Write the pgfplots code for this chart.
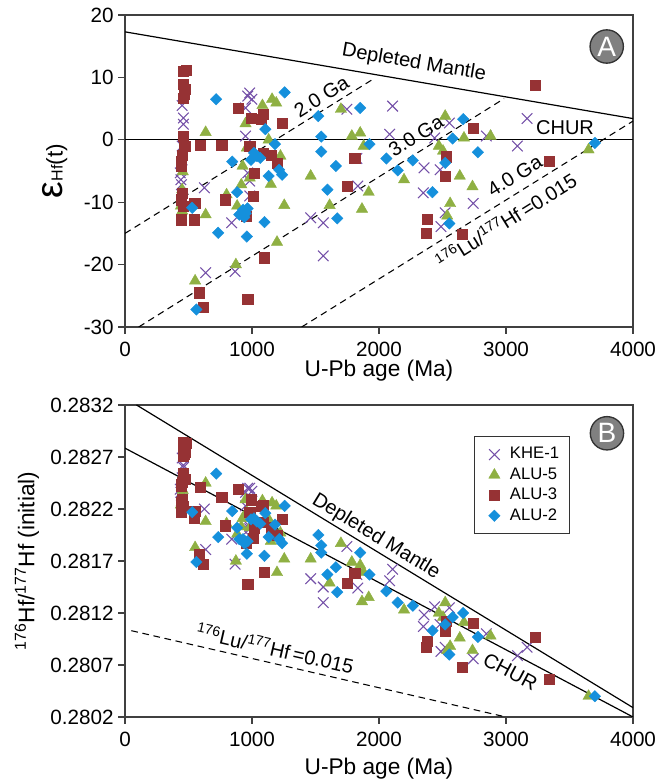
\documentclass[border=0pt]{standalone}
\usepackage{pgfplots}
\pgfplotsset{compat=1.18}
\usepackage{fontspec}
\setmainfont{Liberation Sans}
\definecolor{khe}{HTML}{7450A8}
\definecolor{aluv}{HTML}{8FB043}
\definecolor{aluiii}{HTML}{963234}
\definecolor{aluii}{HTML}{1590DC}
\pgfplotsset{
  panel/.style={
    scale only axis, width=381pt, height=234pt,
    xmin=0, xmax=4000, xtick={0,1000,2000,3000,4000},
    axis line style={draw=black!75, line width=0.9pt},
    tick align=outside, xtick pos=left, ytick pos=left,
    major tick length=5pt,
    every tick/.style={draw=black!75, line width=0.9pt},
    tick label style={font=\fontsize{15.5}{18}\selectfont},
    xticklabel style={yshift=-2.5pt},
    /pgf/number format/assume math mode=true,
    /pgf/number format/1000 sep={},
    label style={font=\fontsize{17}{20}\selectfont},
    xlabel={U-Pb age (Ma)},
  },
  kheS/.style={only marks, mark=x, mark size=5.6pt, color=khe, mark options={line width=0.8pt}},
  aluvS/.style={only marks, mark=triangle*, mark size=4.9pt, color=aluv, mark options={line width=0.3pt}},
  aluiiiS/.style={only marks, mark=square*, mark size=3.8pt, color=aluiii, mark options={line width=0.3pt}},
  aluiiS/.style={only marks, mark=square*, mark size=3.05pt, color=aluii, mark options={rotate=45, line width=0.3pt}},
  refline/.style={black, line width=0.9pt, forget plot},
  dashline/.style={black, line width=0.8pt, dash pattern=on 5pt off 3.5pt, forget plot},
}
\tikzset{
  lbl/.style={font=\fontsize{15}{18}\selectfont, inner sep=0pt},
  circ/.style={circle, draw=black!80, line width=1pt, fill=black!50, text=white, minimum size=25pt, inner sep=0pt, font=\fontsize{21}{21}\selectfont},
}
\begin{document}
\begin{tikzpicture}
\path[use as bounding box] (0pt,0pt) rectangle (494.25pt,588pt);
% ---------------- Panel A ----------------
\begin{axis}[panel, at={(93.75pt,342.75pt)}, anchor=south west,
  ymin=-30, ymax=20, ytick={-30,-20,-10,0,10,20},
  ylabel={{\fontsize{28}{28}\selectfont ε}{\fontsize{12}{12}\selectfont Hf}(t)},
  ylabel style={at={(axis description cs:-0.138,0.5)}, anchor=center},
  xlabel style={at={(axis description cs:0.5,-0.141)}, anchor=center},
]
\addplot[refline] coordinates {(0,17.3) (4000,3.4)};
\addplot[refline] coordinates {(0,0) (4000,0)};
\addplot[dashline] coordinates {(0,-15) (1960,9.8)};
\addplot[dashline] coordinates {(108,-30) (2985,6.6)};
\addplot[dashline] coordinates {(1391,-30) (4000,3.0)};
\addplot[kheS] table {
x y
450 5.5
460 3.5
460 2.5
450 -1.0
435 -5.3
440 -6.4
445 -7.2
450 -4.8
625 -7.7
635 -21.3
840 -13.3
867 -21.1
982 7.5
966 7.0
999 6.5
949 5.1
949 0.6
966 -5.3
982 -6.6
982 -9.0
1462 -12.5
1561 -13.3
1561 -18.6
1747 4.9
1826 -3.0
1833 -7.4
2107 5.4
2084 0.9
2355 -4.5
2349 -8.5
2438 0.3
2481 -4.8
2488 -13.9
2521 -11.7
2554 2.7
2845 0.6
2742 -10.2
3090 -1.0
3166 3.4
};
\addplot[aluvS] table {
x y
455 -5.1
450 -8.0
445 -9.6
440 -10.6
450 -11.4
552 -22.6
635 1.2
635 -12.0
800 -8.8
873 -20.0
883 -10.6
949 2.6
959 -1.3
916 -7.2
926 -4.2
982 -6.1
1082 5.5
1158 6.5
1191 5.9
1131 0.0
1148 -7.1
1224 -2.6
1254 -10.5
1197 -16.4
1462 -5.8
1611 -10.5
1700 4.9
1786 0.6
1852 1.1
1866 -11.1
1879 -1.0
1919 -8.4
2197 -6.4
2471 -1.0
2504 -1.8
2521 3.8
2537 -12.2
2560 -10.2
2636 -5.8
2669 0.3
2736 -7.5
2878 0.6
3650 -1.6
};
\addplot[aluiiiS] table {
x y
460 11.0
480 11.2
460 8.9
470 8.1
465 7.3
460 6.7
460 0.6
470 -1.0
450 -2.4
440 -3.4
445 -4.2
450 -8.5
445 -9.6
455 -10.6
445 -12.8
549 -10.1
546 -12.8
585 -24.5
615 -26.8
595 -0.9
761 -0.9
791 -9.6
893 5.1
966 -25.6
956 -12.2
992 3.5
982 -1.0
1009 -9.0
1072 3.3
1085 4.1
1088 -2.1
1016 -5.3
1151 -2.4
1197 -3.7
1237 2.6
1098 -18.9
1747 -7.4
1809 -3.0
2375 -14.9
2382 -12.7
2527 -2.7
2521 -5.8
2653 -15.1
2739 1.8
3232 8.7
3338 -3.4
};
\addplot[aluiiS] table {
x y
529 -10.9
562 -27.2
718 6.5
734 -14.9
844 -3.5
883 -8.4
900 -12.0
930 -11.2
950 -11.8
965 -11.0
940 -12.4
959 -15.5
992 -3.2
1016 -2.1
1039 -2.6
1065 -2.9
1098 -13.2
1105 1.7
1131 -5.8
1181 -0.7
1214 -4.8
1237 -5.6
1257 7.6
1522 3.8
1545 0.5
1545 -1.9
1661 -4.2
1594 -8.0
1671 -12.6
1852 5.1
1925 -0.7
2058 -3.0
2147 -4.9
2266 -3.3
2421 -8.4
2521 -3.7
2554 -13.4
2580 0.2
2663 3.3
2779 -2.0
3700 -0.5
};
\node[lbl, rotate=-9.7] at (axis cs:2275,12.3) {Depleted Mantle};
\node[lbl] at (axis cs:3465,2.0) {CHUR};
\node[lbl, rotate=32] at (axis cs:1546,6.9) {2.0 Ga};
\node[lbl, rotate=32] at (axis cs:2291,0.6) {3.0 Ga};
\node[lbl, rotate=32] at (axis cs:3068,-5.8) {4.0 Ga};
\node[lbl, rotate=32] at (axis cs:3000,-12.9) {\textsuperscript{176}Lu/\textsuperscript{177}Hf\,=0.015};
\node[circ] at (axis cs:3793,14.95) {A};
\end{axis}
% ---------------- Panel B ----------------
\begin{axis}[panel, at={(93.75pt,50.25pt)}, anchor=south west,
  ymin=0.2802, ymax=0.2832,
  ytick={0.2802,0.2807,0.2812,0.2817,0.2822,0.2827,0.2832},
  scaled y ticks=false,
  yticklabel style={/pgf/number format/.cd, fixed, fixed zerofill, precision=4},
  ylabel={\textsuperscript{176}Hf/\textsuperscript{177}Hf (initial)},
  ylabel style={at={(axis description cs:-0.193,0.5)}, anchor=center},
  xlabel style={at={(axis description cs:0.5,-0.167)}, anchor=center},
  legend image code/.code={\path (0pt,0pt) (18pt,0pt); \draw[#1] plot coordinates {(8.5pt,0pt)};},
  legend style={at={(rel axis cs:0.876,0.9006)}, anchor=north east, draw=black!80, line width=0.9pt,
    font=\fontsize{12.5}{15}\selectfont, inner xsep=6pt, inner ysep=6pt, row sep=0.3pt,
    nodes={text height=9pt, text depth=2.5pt, inner sep=1.75pt},
    cells={anchor=west}},
]
\addplot[refline] coordinates {(91,0.2832) (4000,0.28029)};
\addplot[refline] coordinates {(0,0.282785) (4000,0.28020)};
\addplot[dashline] coordinates {(50,0.28103) (3000,0.28020)};
\addplot[kheS] table {
x y
450 0.28269
460 0.28262
460 0.28260
450 0.28250
435 0.28239
440 0.28236
445 0.28233
450 0.28240
625 0.28220
635 0.28181
840 0.28191
867 0.28167
982 0.28240
966 0.28240
999 0.28237
949 0.28236
949 0.28223
966 0.28205
982 0.28201
982 0.28194
1462 0.28153
1561 0.28145
1561 0.28130
1747 0.28184
1826 0.28157
1833 0.28144
2107 0.28162
2084 0.28151
2355 0.28118
2349 0.28107
2438 0.28126
2481 0.28109
2488 0.28083
2521 0.28087
2554 0.28125
2845 0.28100
2742 0.28076
3090 0.28079
3166 0.28087
};
\addlegendentry{KHE-1}
\addplot[aluvS] table {
x y
455 0.28238
450 0.28231
445 0.28226
440 0.28224
450 0.28221
552 0.28183
635 0.28245
635 0.28208
800 0.28206
873 0.28170
883 0.28196
949 0.28229
959 0.28217
916 0.28203
926 0.28211
982 0.28202
1082 0.28228
1158 0.28226
1191 0.28223
1131 0.28210
1148 0.28189
1224 0.28197
1254 0.28172
1197 0.28159
1462 0.28172
1611 0.28149
1700 0.28187
1786 0.28169
1852 0.28166
1866 0.28131
1879 0.28159
1919 0.28135
2197 0.28123
2471 0.28120
2504 0.28116
2521 0.28130
2537 0.28084
2560 0.28088
2636 0.28096
2669 0.28111
2736 0.28084
2878 0.28098
3650 0.28040
};
\addlegendentry{ALU-5}
\addplot[aluiiiS] table {
x y
460 0.28284
480 0.28283
460 0.28278
470 0.28275
465 0.28273
460 0.28271
460 0.28254
470 0.28249
450 0.28246
440 0.28244
445 0.28242
450 0.28229
445 0.28226
455 0.28223
445 0.28217
549 0.28218
546 0.28211
585 0.28176
615 0.28167
595 0.28241
761 0.28231
791 0.28204
893 0.28239
966 0.28148
956 0.28187
992 0.28229
982 0.28217
1009 0.28192
1072 0.28223
1085 0.28224
1088 0.28207
1016 0.28202
1151 0.28202
1197 0.28195
1237 0.28210
1098 0.28159
1747 0.28149
1809 0.28158
2375 0.28087
2382 0.28093
2527 0.28112
2521 0.28103
2653 0.28068
2739 0.28110
3232 0.28097
3338 0.28056
};
\addlegendentry{ALU-3}
\addplot[aluiiS] table {
x y
529 0.28217
562 0.28169
718 0.28254
734 0.28193
844 0.28218
883 0.28202
900 0.28191
930 0.28191
950 0.28188
965 0.28189
940 0.28187
959 0.28177
992 0.28210
1016 0.28211
1039 0.28208
1065 0.28206
1098 0.28175
1105 0.28216
1131 0.28193
1181 0.28205
1214 0.28191
1237 0.28187
1257 0.28223
1522 0.28195
1545 0.28185
1545 0.28178
1661 0.28164
1594 0.28157
1671 0.28140
1852 0.28178
1925 0.28157
2058 0.28141
2147 0.28130
2266 0.28127
2421 0.28103
2521 0.28109
2554 0.28080
2580 0.28116
2663 0.28120
2779 0.28097
3700 0.28040
};
\addlegendentry{ALU-2}
\node[lbl, rotate=-31.4] at (axis cs:1976,0.281934) {Depleted Mantle};
\node[lbl, rotate=-28] at (axis cs:3035,0.280636) {CHUR};
\node[lbl, rotate=-12.9] at (axis cs:1183,0.280860) {\textsuperscript{176}Lu/\textsuperscript{177}Hf\,=0.015};
\node[circ] at (axis cs:3795,0.282928) {B};
\end{axis}
\end{tikzpicture}
\end{document}
